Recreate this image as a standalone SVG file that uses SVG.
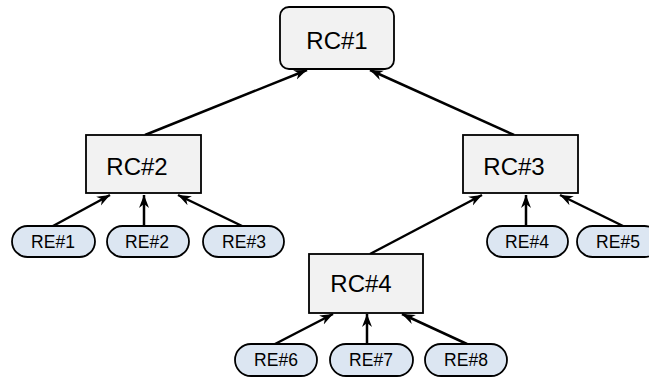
<svg xmlns="http://www.w3.org/2000/svg" width="649" height="379" viewBox="0 0 649 379">
<defs>
<style>
.rc{fill:#f2f2f2;stroke:#000;stroke-width:1.8}
.re{fill:#dce6f2;stroke:#000;stroke-width:1.8}
.t1{font-family:"Liberation Sans",Arial,sans-serif;font-size:24px;fill:#000;text-anchor:middle}
.t2{font-family:"Liberation Sans",Arial,sans-serif;font-size:17.5px;fill:#000;text-anchor:middle}
.c{stroke:#000;stroke-width:2.5;fill:none;marker-end:url(#ah)}
</style>
<marker id="ah" markerUnits="userSpaceOnUse" markerWidth="14" markerHeight="12" viewBox="0 0 14 12" refX="13" refY="6" orient="auto">
<path d="M0,1 L13,6 L0,11 L4,6 Z" fill="#000"/>
</marker>
</defs>
<rect width="649" height="379" fill="#fff"/>
<g id="connectors">
<line class="c" x1="145" y1="135" x2="307" y2="70"/>
<line class="c" x1="514" y1="135" x2="370" y2="70"/>
<line class="c" x1="53" y1="226" x2="110" y2="195"/>
<line class="c" x1="144" y1="226" x2="144" y2="195"/>
<line class="c" x1="242" y1="226" x2="178" y2="195"/>
<line class="c" x1="370" y1="254" x2="482" y2="195"/>
<line class="c" x1="526" y1="226" x2="526" y2="195"/>
<line class="c" x1="623" y1="226" x2="560" y2="195"/>
<line class="c" x1="275" y1="344" x2="333" y2="314"/>
<line class="c" x1="367" y1="344" x2="367" y2="314"/>
<line class="c" x1="467" y1="344" x2="402" y2="314"/>
</g>
<g id="RC1"><rect class="rc" x="280" y="7" width="114" height="62" rx="9"/><text class="t1" x="337" y="49">RC#1</text></g>
<g id="RC2"><rect class="rc" x="86" y="135" width="115" height="58"/><text class="t1" x="137" y="175">RC#2</text></g>
<g id="RC3"><rect class="rc" x="463" y="135" width="115" height="58"/><text class="t1" x="514" y="175">RC#3</text></g>
<g id="RC4"><rect class="rc" x="309" y="254" width="114" height="59"/><text class="t1" x="361" y="292">RC#4</text></g>
<g id="RE1"><rect class="re" x="12" y="226" width="83" height="31" rx="15.5"/><text class="t2" x="53" y="248">RE#1</text></g>
<g id="RE2"><rect class="re" x="107" y="226" width="82" height="31" rx="15.5"/><text class="t2" x="147" y="248">RE#2</text></g>
<g id="RE3"><rect class="re" x="203" y="226" width="81" height="31" rx="15.5"/><text class="t2" x="244" y="248">RE#3</text></g>
<g id="RE4"><rect class="re" x="487" y="226" width="81" height="31" rx="15.5"/><text class="t2" x="527" y="248">RE#4</text></g>
<g id="RE5"><rect class="re" x="577" y="226" width="83" height="31" rx="15.5"/><text class="t2" x="618" y="248">RE#5</text></g>
<g id="RE6"><rect class="re" x="235" y="344" width="82" height="32" rx="16"/><text class="t2" x="276" y="366">RE#6</text></g>
<g id="RE7"><rect class="re" x="330" y="344" width="83" height="32" rx="16"/><text class="t2" x="371" y="366">RE#7</text></g>
<g id="RE8"><rect class="re" x="425" y="344" width="82" height="32" rx="16"/><text class="t2" x="466" y="366">RE#8</text></g>
</svg>
